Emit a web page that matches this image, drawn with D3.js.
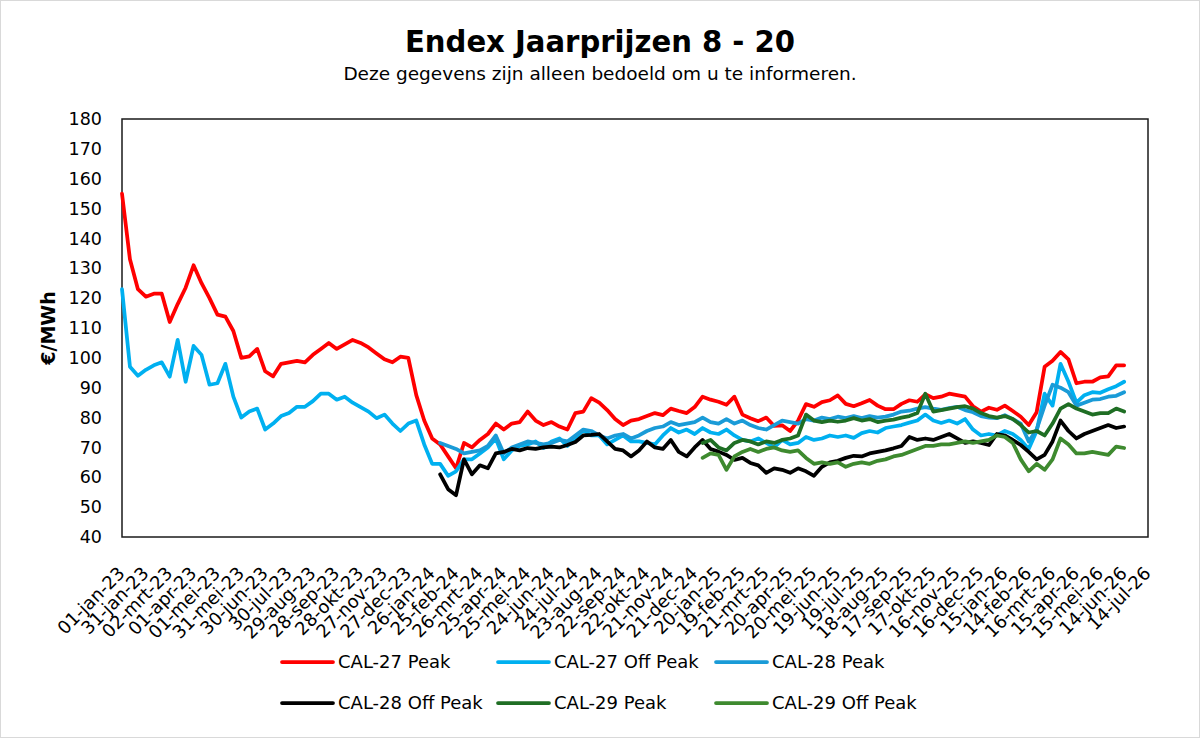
<!DOCTYPE html>
<html>
<head>
<meta charset="utf-8">
<title>Endex Jaarprijzen 8 - 20</title>
<script src="https://cdn.jsdelivr.net/npm/d3@7"></script>
<style>
    html, body { margin: 0; padding: 0; background: #fff; }
    svg text { font-family: "DejaVu Sans", "Liberation Sans", sans-serif; fill: #000; }
</style>
</head>
<body>
<svg id="chart" width="1200" height="738"></svg>
<script>
// x-axis tick labels (Excel date axis, one label every 30 days)
const tickLabels = [
    "01-jan-23", "31-jan-23", "02-mrt-23", "01-apr-23", "01-mei-23", "31-mei-23", "30-jun-23", "30-jul-23",
    "29-aug-23", "28-sep-23", "28-okt-23", "27-nov-23", "27-dec-23", "26-jan-24", "25-feb-24", "26-mrt-24",
    "25-apr-24", "25-mei-24", "24-jun-24", "24-jul-24", "23-aug-24", "22-sep-24", "22-okt-24", "21-nov-24",
    "21-dec-24", "20-jan-25", "19-feb-25", "21-mrt-25", "20-apr-25", "20-mei-25", "19-jun-25", "19-jul-25",
    "18-aug-25", "17-sep-25", "17-okt-25", "16-nov-25", "16-dec-25", "15-jan-26", "14-feb-26", "16-mrt-26",
    "15-apr-26", "15-mei-26", "14-jun-26", "14-jul-26"
];
const yTicks = [40, 50, 60, 70, 80, 90, 100, 110, 120, 130, 140, 150, 160, 170, 180];

const sampleStart = "01-jan-23";
const sampleStepDays = 10;

const cal27Peak = [
    155, 133, 123, 120.5, 121.5, 121.5, 112, 118, 123.5, 131,
    125, 120, 114.5, 113.8, 109, 100, 100.5, 103, 95.5, 93.8,
    98, 98.5, 99, 98.5, 101, 103, 105, 103, 104.5, 106,
    105, 103.5, 101.5, 99.5, 98.5, 100.4, 100, 87.5, 79, 73,
    71, 67, 63, 71.5, 70, 72.5, 74.5, 78, 76, 78,
    78.5, 82, 79, 77.5, 78.5, 77, 76, 81.5, 82, 86.5,
    85, 82.5, 79.5, 77.5, 79, 79.5, 80.5, 81.5, 80.8, 83,
    82.2, 81.5, 83.5, 87, 86, 85.3, 84.3, 87, 81, 79.8,
    78.8, 80, 77.2, 77.4, 75.5, 79, 84.5, 83.6, 85.2, 85.8,
    87.4, 84.6, 83.8, 84.8, 85.9, 84, 82.8, 82.8, 84.6, 85.8,
    85.3, 87.8, 86.5, 87, 88, 87.5, 87, 83.8, 82, 83.3,
    82.6, 84, 82.2, 80.3, 77.5, 81.8, 97, 99, 102, 99.5,
    91.5, 92, 92, 93.5, 93.8, 97.5, 97.5
];
const cal27OffPeak = [
    123, 97, 94, 96, 97.5, 98.5, 93.7, 106, 92, 104,
    101, 91, 91.5, 98, 87, 80, 82, 83, 76, 78,
    80.5, 81.5, 83.6, 83.6, 85.5, 88, 88, 86, 87, 85,
    83.5, 82, 79.8, 81, 78, 75.5, 78, 79, 71, 64.5,
    64.5, 60.5, 62, 66, 66, 68, 70, 73, 66, 69,
    70.5, 71, 72, 69.8, 72, 73, 70.5, 73, 75.8, 74,
    74, 71, 72.5, 74, 72, 72, 71.5, 71, 74, 76.5,
    75, 76, 74.5, 76.5, 75, 74.5, 76, 74, 72.5, 72,
    73, 71.5, 70, 72.5, 71, 71.5, 73.5, 72.5, 73, 74,
    73.5, 74, 73.2, 74.8, 75.5, 75, 76.5, 77, 77.5, 78.3,
    79, 81, 79, 78.2, 79, 78, 79.5, 76, 74, 74.5,
    74, 75.5, 74.5, 72.5, 69.5, 75.5, 88, 84, 98, 92,
    85, 87.5, 88.5, 88.3, 89.5, 90.5, 92
];
const cal28PeakStart = 40;   // sample index of the first quote
const cal28Peak = [
    71.5, 70.5, 69.5, 68, 68.5, 69, 70.5, 74, 68, 70,
    71, 72, 71.5, 71, 71.5, 72.5, 72, 74, 76, 75.5,
    74, 73, 74, 74.5, 73, 74, 75.5, 76.5, 77, 78.5,
    77.5, 78, 78.5, 80, 78.5, 78, 79.5, 78, 79, 77.5,
    76.5, 76, 77.5, 79, 78.5, 78, 79.5, 79, 80, 79.5,
    80.3, 79.8, 80.5, 79.8, 80.5, 80, 80.3, 81, 82, 82.3,
    83, 83.5, 83, 82.6, 83.2, 83.6, 82.5, 81.8, 80.5, 80,
    79.8, 80.8, 79.5, 78, 72, 76, 84, 91, 90, 88.5,
    84, 85, 86, 86.2, 87, 87.3, 88.5
];
const cal28OffPeakStart = 40;
const cal28OffPeak = [
    61, 56, 54, 66, 61, 64, 63, 68, 68.5, 69.5,
    69, 69.8, 69.5, 70, 70.3, 70, 70.8, 71.8, 74, 74.2,
    74.5, 72, 69.5, 69, 67, 69, 72, 70, 69.5, 72.5,
    68.5, 67, 70, 72.5, 69.5, 68.6, 67.5, 65.8, 66.5, 64.8,
    64, 61.5, 63, 62.5, 61.5, 63, 62, 60.5, 63.5, 65,
    65.5, 66.5, 67.2, 67, 68, 68.5, 69, 69.7, 70.5, 73.5,
    72.5, 73, 72.5, 73.5, 74.5, 73, 71.5, 72, 71.5, 70.8,
    74.5, 74, 72.5, 70.8, 68.5, 66, 67.5, 72, 79, 75.5,
    73, 74.5, 75.5, 76.5, 77.5, 76.5, 77
];
const cal29PeakStart = 73;
const cal29Peak = [
    71.5, 72.5, 70, 69, 71.5, 72.5, 72,
    71, 72, 71.5, 72.5, 73, 74, 81, 79, 78.5, 79,
    78.6, 79, 79.8, 79, 79.5, 78.5, 79, 79.3, 80, 80.5,
    81.5, 88, 82, 82.5, 83, 83.5, 83.8, 83, 81.5, 80.5,
    80, 80.5, 79.5, 77.5, 75, 75.5, 74, 78, 83, 84.5,
    83, 82, 81, 81.5, 81.5, 83, 82
];
const cal29OffPeakStart = 73;
const cal29OffPeak = [
    66.5, 68, 67.5, 62.5, 67, 68.5, 69.5,
    68.5, 69.5, 70, 69, 68.5, 69, 66.5, 64.5, 65, 64.5,
    65, 63.5, 64.5, 65, 64.5, 65.5, 66, 67, 67.5, 68.5,
    69.5, 70.5, 70.5, 71, 71, 71.5, 72, 71.5, 72, 72.5,
    74, 73.5, 71.5, 66, 62, 64.5, 62.5, 66, 73, 71,
    68, 68, 68.5, 68, 67.5, 70.3, 69.8
];

const seriesNames = ["CAL-27 Peak", "CAL-27 Off Peak", "CAL-28 Peak", "CAL-28 Off Peak", "CAL-29 Peak", "CAL-29 Off Peak"];
const seriesColors = ["#ff0000", "#00b0f0", "#1a9bd7", "#000000", "#1f6e24", "#3e8a2f"];

/**
 * Endex year-price chart: six daily price lines on an Excel style date axis
 */
const JaarprijzenChart = {
    width: 1200,
    height: 738,
    plot: { left: 122, right: 1148, top: 119, bottom: 537 },

    init() {
        this.locale = d3.timeFormatLocale({
            dateTime: "%a %e %B %Y %X",
            date: "%d-%m-%Y",
            time: "%H:%M:%S",
            periods: ["AM", "PM"],
            days: ["zondag", "maandag", "dinsdag", "woensdag", "donderdag", "vrijdag", "zaterdag"],
            shortDays: ["zo", "ma", "di", "wo", "do", "vr", "za"],
            months: ["januari", "februari", "maart", "april", "mei", "juni", "juli", "augustus", "september", "oktober", "november", "december"],
            shortMonths: ["jan", "feb", "mrt", "apr", "mei", "jun", "jul", "aug", "sep", "okt", "nov", "dec"]
        });
        this.parseDay = this.locale.parse("%d-%b-%y");
        this.formatDay = this.locale.format("%d-%b-%y");
        this.render();
    },

    /**
     * Turns a value list plus its first sample index into {date, value} points
     */
    toPoints(values, startIndex) {
        const first = this.parseDay(sampleStart);
        return values.map((value, i) => ({
            date: d3.timeDay.offset(first, (startIndex + i) * sampleStepDays),
            value
        }));
    },

    render() {
        const svg = d3.select('#chart');
        const p = this.plot;

        const series = [
            this.toPoints(cal27Peak, 0),
            this.toPoints(cal27OffPeak, 0),
            this.toPoints(cal28Peak, cal28PeakStart),
            this.toPoints(cal28OffPeak, cal28OffPeakStart),
            this.toPoints(cal29Peak, cal29PeakStart),
            this.toPoints(cal29OffPeak, cal29OffPeakStart)
        ];

        const tickDates = tickLabels.map(t => this.parseDay(t));
        const x = d3.scaleTime()
            .domain([tickDates[0], tickDates[tickDates.length - 1]])
            .range([p.left, p.right]);
        const y = d3.scaleLinear()
            .domain([40, 180])
            .range([p.bottom, p.top]);

        // outer chart border
        svg.append('rect')
            .attr('x', 0.5).attr('y', 0.5)
            .attr('width', this.width - 1).attr('height', this.height - 1)
            .attr('fill', '#fff')
            .attr('stroke', '#d9d9d9');

        svg.append('text')
            .attr('x', 600).attr('y', 52)
            .attr('text-anchor', 'middle')
            .attr('textLength', 390)
            .attr('lengthAdjust', 'spacingAndGlyphs')
            .style('font-size', '31px')
            .style('font-weight', 'bold')
            .text('Endex Jaarprijzen 8 - 20');

        svg.append('text')
            .attr('x', 600).attr('y', 80)
            .attr('text-anchor', 'middle')
            .style('font-size', '18.5px')
            .text('Deze gegevens zijn alleen bedoeld om u te informeren.');

        // y axis
        const yAxis = svg.append('g')
            .attr('transform', `translate(${p.left},0)`)
            .call(d3.axisLeft(y).tickValues(yTicks).tickSize(0).tickPadding(20));
        yAxis.select('.domain').remove();
        yAxis.selectAll('text')
            .style('font-size', '17.5px')
            .style('font-family', '"DejaVu Sans", sans-serif');

        svg.append('text')
            .attr('transform', `translate(55,${(p.top + p.bottom) / 2}) rotate(-90)`)
            .attr('text-anchor', 'middle')
            .style('font-size', '19px')
            .style('font-weight', 'bold')
            .text('€/MWh');

        // x axis, rotated labels
        const xAxis = svg.append('g')
            .attr('transform', `translate(0,${p.bottom})`)
            .call(d3.axisBottom(x).tickValues(tickDates).tickFormat(this.formatDay).tickSize(0));
        xAxis.select('.domain').remove();
        xAxis.selectAll('text')
            .attr('x', 0).attr('y', 0)
            .attr('dy', '0.35em')
            .attr('transform', 'translate(-1,33) rotate(-45)')
            .attr('text-anchor', 'end')
            .style('font-size', '18px')
            .style('font-family', '"DejaVu Sans", sans-serif');

        // plot area frame
        svg.append('rect')
            .attr('x', p.left).attr('y', p.top)
            .attr('width', p.right - p.left).attr('height', p.bottom - p.top)
            .attr('fill', 'none')
            .attr('stroke', '#1a1a1a')
            .attr('stroke-width', 1.5);

        const line = d3.line()
            .x(d => x(d.date))
            .y(d => y(d.value));

        svg.append('g')
            .selectAll('path')
            .data(series)
            .join('path')
            .attr('d', line)
            .attr('fill', 'none')
            .attr('stroke', (d, i) => seriesColors[i])
            .attr('stroke-width', 3.75)
            .attr('stroke-linejoin', 'round')
            .attr('stroke-linecap', 'round');

        // legend, three per row
        const colX = [282, 498, 716];
        const rowY = [662, 703];
        const legend = svg.append('g');
        seriesNames.forEach((name, i) => {
            const lx = colX[i % 3];
            const ly = rowY[Math.floor(i / 3)];
            legend.append('line')
                .attr('x1', lx).attr('x2', lx + 51)
                .attr('y1', ly).attr('y2', ly)
                .attr('stroke', seriesColors[i])
                .attr('stroke-width', 3.75)
                .attr('stroke-linecap', 'round');
            legend.append('text')
                .attr('x', lx + 56).attr('y', ly)
                .attr('dy', '0.35em')
                .style('font-size', '18px')
                .text(name);
        });
    }
};

document.addEventListener('DOMContentLoaded', () => {
    JaarprijzenChart.init();
});
</script>
</body>
</html>
